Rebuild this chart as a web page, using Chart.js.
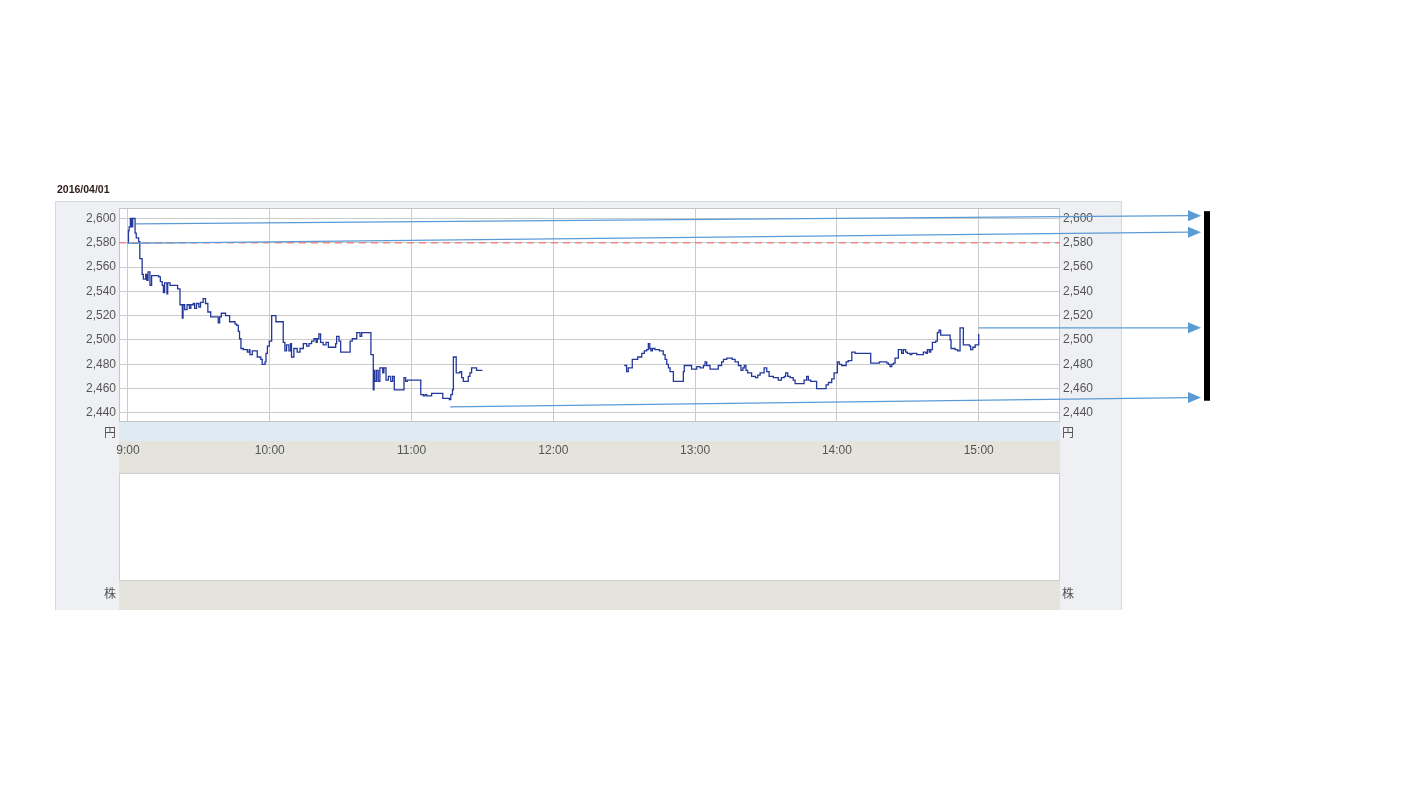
<!DOCTYPE html>
<html>
<head>
<meta charset="utf-8">
<script src="https://cdn.jsdelivr.net/npm/chart.js@4.4.1/dist/chart.umd.min.js"></script>
<style>
  html, body { margin: 0; padding: 0; background: #fff; }
  canvas { display: block; }
</style>
</head>
<body>
<canvas id="chart" width="1410" height="793"></canvas>
<script>
// --- data ---
const dateLabel = '2016/04/01';
const hourLabels = ['9:00', '10:00', '11:00', '12:00', '13:00', '14:00', '15:00'];
const priceTicks = [2440, 2460, 2480, 2500, 2520, 2540, 2560, 2580, 2600];
const prevClose = 2580;

// morning session ticks (time, price)
const amTimes = [
  '9:00:00', '9:00:12', '9:00:30', '9:01:00', '9:01:30', '9:02:00', '9:03:00', '9:03:30', '9:04:30', '9:05:00',
  '9:06:00', '9:06:30', '9:07:30', '9:08:00', '9:08:30', '9:09:18', '9:10:00', '9:13:00', '9:13:42', '9:14:30',
  '9:15:00', '9:15:30', '9:16:30', '9:16:48', '9:17:48', '9:21:00', '9:22:00', '9:23:00', '9:23:18', '9:24:00',
  '9:25:00', '9:26:00', '9:26:36', '9:27:36', '9:28:12', '9:29:00', '9:30:00', '9:30:42', '9:31:48', '9:32:48',
  '9:33:48', '9:35:00', '9:38:12', '9:38:48', '9:39:30', '9:41:18', '9:43:00', '9:45:18', '9:46:00', '9:46:42',
  '9:47:12', '9:47:48', '9:48:48', '9:50:30', '9:51:18', '9:51:36', '9:52:36', '9:54:42', '9:56:12', '9:56:48',
  '9:58:00', '9:58:24', '9:59:00', '9:59:48', '10:00:48', '10:02:36', '10:05:42', '10:06:24', '10:07:06', '10:08:06',
  '10:08:48', '10:09:12', '10:10:12', '10:11:36', '10:12:48', '10:14:12', '10:15:36', '10:16:36', '10:17:42', '10:18:42',
  '10:19:36', '10:20:06', '10:20:48', '10:21:30', '10:22:36', '10:23:48', '10:24:48', '10:27:54', '10:28:18', '10:29:18',
  '10:30:00', '10:34:00', '10:34:54', '10:36:48', '10:38:12', '10:38:54', '10:42:48', '10:43:48', '10:44:06', '10:44:30',
  '10:45:12', '10:45:54', '10:46:36', '10:47:48', '10:48:18', '10:49:12', '10:50:12', '10:51:12', '10:52:00', '10:52:42',
  '10:56:48', '10:57:30', '10:58:12', '11:03:54', '11:05:00', '11:05:42', '11:06:24', '11:08:30', '11:13:12', '11:16:00',
  '11:16:36', '11:17:18', '11:17:42', '11:18:54', '11:20:30', '11:21:12', '11:21:54', '11:24:00', '11:24:42', '11:25:24',
  '11:27:30', '11:30:00'
];
const amPrices = [
  2580, 2590, 2593, 2600, 2593, 2600, 2588, 2584, 2581, 2567,
  2554, 2550, 2554, 2549, 2556, 2545, 2553, 2552, 2548, 2545,
  2539, 2547, 2538, 2547, 2545, 2542, 2529, 2518, 2529, 2525,
  2529, 2526, 2529, 2530, 2526, 2530, 2527, 2531, 2534, 2530,
  2523, 2519, 2514, 2519, 2522, 2520, 2515, 2513, 2512, 2507,
  2501, 2493, 2492, 2490, 2492, 2488, 2491, 2486, 2484, 2480,
  2482, 2489, 2495, 2499, 2520, 2515, 2498, 2491, 2496, 2491,
  2497, 2486, 2493, 2490, 2493, 2497, 2495, 2497, 2499, 2501,
  2498, 2501, 2505, 2498, 2496, 2498, 2494, 2497, 2503, 2499,
  2490, 2499, 2501, 2506, 2503, 2506, 2488, 2459, 2475, 2466,
  2475, 2466, 2477, 2473, 2477, 2467, 2470, 2466, 2470, 2459,
  2469, 2466, 2467, 2455, 2454, 2455, 2454, 2456, 2452, 2451,
  2455, 2459, 2486, 2473, 2474, 2469, 2466, 2470, 2473, 2477,
  2475, 2475
];

// afternoon session ticks (time, price)
const pmTimes = [
  '12:30:00', '12:31:00', '12:31:42', '12:33:24', '12:35:42', '12:37:24', '12:38:30', '12:39:30', '12:40:12', '12:40:48',
  '12:41:18', '12:41:54', '12:43:00', '12:44:54', '12:46:30', '12:47:18', '12:48:00', '12:48:42', '12:49:24', '12:50:48',
  '12:55:00', '12:55:24', '12:58:30', '13:00:42', '13:02:06', '13:03:30', '13:04:12', '13:04:54', '13:06:18', '13:09:48',
  '13:11:12', '13:12:00', '13:13:24', '13:15:42', '13:16:54', '13:18:18', '13:19:24', '13:20:12', '13:20:48', '13:21:30',
  '13:22:12', '13:23:54', '13:25:30', '13:26:30', '13:27:30', '13:29:12', '13:30:18', '13:31:18', '13:33:06', '13:35:12',
  '13:36:30', '13:37:42', '13:38:18', '13:39:12', '13:40:12', '13:41:30', '13:42:18', '13:46:06', '13:47:12', '13:47:54',
  '13:48:54', '13:51:24', '13:55:24', '13:56:24', '13:57:48', '13:58:48', '14:00:12', '14:01:00', '14:02:00', '14:03:54',
  '14:04:48', '14:06:18', '14:07:42', '14:14:18', '14:18:00', '14:21:06', '14:21:48', '14:22:30', '14:23:12', '14:23:54',
  '14:24:36', '14:26:00', '14:27:24', '14:28:06', '14:29:06', '14:29:48', '14:31:00', '14:31:42', '14:33:48', '14:36:36',
  '14:37:42', '14:38:18', '14:39:06', '14:39:42', '14:40:24', '14:41:48', '14:42:30', '14:43:12', '14:43:54', '14:47:54',
  '14:48:18', '14:50:00', '14:51:06', '14:52:06', '14:53:30', '14:56:06', '14:56:36', '14:57:30', '14:58:30', '15:00:00'
];
const pmPrices = [
  2479, 2474, 2477, 2484, 2486, 2489, 2491, 2492, 2497, 2493,
  2491, 2493, 2492, 2491, 2488, 2484, 2480, 2477, 2474, 2466,
  2474, 2479, 2476, 2478, 2477, 2479, 2482, 2479, 2476, 2479,
  2482, 2484, 2485, 2484, 2482, 2479, 2475, 2477, 2479, 2475,
  2473, 2470, 2469, 2471, 2473, 2477, 2474, 2470, 2469, 2467,
  2469, 2470, 2473, 2470, 2469, 2467, 2464, 2467, 2470, 2467,
  2466, 2460, 2463, 2465, 2468, 2473, 2482, 2480, 2479, 2482,
  2483, 2490, 2489, 2481, 2482, 2481, 2480, 2478, 2480, 2481,
  2485, 2492, 2489, 2492, 2490, 2489, 2488, 2489, 2488, 2490,
  2489, 2492, 2490, 2492, 2498, 2499, 2506, 2508, 2504, 2500,
  2493, 2492, 2491, 2510, 2496, 2495, 2492, 2494, 2496, 2505
];

// annotation arrows: start (time, price) -> price at the arrow tip
const arrowStartTimes = ['9:03:24', '8:59:36', '15:00:00', '11:16:18'];
const arrowStartPrices = [2595.5, 2579.5, 2510, 2445];
const arrowEndPrices = [2602.3, 2588.7, 2510, 2452.6];
const barRange = [2450, 2606];

// --- helpers ---
const toMin = s => { const p = s.split(':').map(Number); return p[0] * 60 + p[1] + (p[2] || 0) / 60 - 540; };
const pts = (times, vals) => times.map((t, i) => ({ x: toMin(t), y: vals[i] }));
const fmt = v => v.toLocaleString('en-US');

const X_MIN = -3.8, X_MAX = 394.4;
const Y_MIN = 2432.5, Y_MAX = 2608.6;
const TICK_FONT = { family: 'Liberation Sans, Arial, sans-serif', size: 12 };
const GRID = '#cbcbcb';

const frame = {
  id: 'frame',
  beforeDraw(chart) {
    const { ctx, chartArea: ca } = chart;
    ctx.save();
    // outer panel
    const pl = ca.left - 64, pt = ca.top - 7, pr = ca.right + 62, pb = ca.bottom + 188;
    ctx.fillStyle = '#eff0f4';
    ctx.fillRect(pl, pt, pr - pl, pb - pt);
    ctx.strokeStyle = '#d6d8dd';
    ctx.lineWidth = 1;
    ctx.beginPath();
    ctx.moveTo(pl + 0.5, pb); ctx.lineTo(pl + 0.5, pt + 0.5);
    ctx.lineTo(pr - 0.5, pt + 0.5); ctx.lineTo(pr - 0.5, pb);
    ctx.stroke();
    // plot
    ctx.fillStyle = '#fff';
    ctx.fillRect(ca.left, ca.top, ca.right - ca.left, ca.bottom - ca.top);
    // bands below the plot
    const w = ca.right - ca.left, b = ca.bottom;
    ctx.fillStyle = '#deebf2';
    ctx.fillRect(ca.left, b, w, 19);
    ctx.fillStyle = '#e5e4dc';
    ctx.fillRect(ca.left, b + 19, w, 32);
    ctx.fillRect(ca.left, b + 158, w, 30);
    ctx.fillStyle = '#fff';
    ctx.fillRect(ca.left, b + 51, w, 107);
    ctx.strokeStyle = '#cfcfcf';
    ctx.strokeRect(ca.left + 0.5, b + 51.5, w - 1, 107);
    // unit labels
    ctx.fillStyle = '#555';
    ctx.font = '12px "Noto Sans CJK JP", sans-serif';
    ctx.textBaseline = 'middle';
    ctx.textAlign = 'right';
    ctx.fillText('円', ca.left - 3, b + 10);
    ctx.fillText('株', ca.left - 3, b + 171);
    ctx.textAlign = 'left';
    ctx.fillText('円', ca.right + 2, b + 10);
    ctx.fillText('株', ca.right + 2, b + 171);
    // date
    ctx.fillStyle = '#2e1c1c';
    ctx.font = 'bold 10.5px "Liberation Sans", Arial, sans-serif';
    ctx.fillText(dateLabel, pl + 2, pt - 11);
    ctx.restore();
  },
  beforeDatasetsDraw(chart) {
    const { ctx, chartArea: ca } = chart;
    ctx.save();
    ctx.strokeStyle = '#c4c4c4';
    ctx.lineWidth = 1;
    ctx.strokeRect(ca.left + 0.5, ca.top + 0.5, ca.right - ca.left - 1, ca.bottom - ca.top - 1);
    ctx.restore();
  },
  afterDraw(chart) {
    const { ctx, scales } = chart;
    const tipX = 1201;
    ctx.save();
    ctx.strokeStyle = '#5b9bd5';
    ctx.fillStyle = '#5b9bd5';
    ctx.lineWidth = 1.2;
    arrowStartTimes.forEach((t, i) => {
      const x0 = scales.x.getPixelForValue(toMin(t));
      const y0 = scales.y.getPixelForValue(arrowStartPrices[i]);
      const y1 = scales.y.getPixelForValue(arrowEndPrices[i]);
      ctx.beginPath();
      ctx.moveTo(x0, y0);
      ctx.lineTo(tipX - 12, y1);
      ctx.stroke();
      ctx.beginPath();
      ctx.moveTo(tipX, y1);
      ctx.lineTo(tipX - 13, y1 - 5.5);
      ctx.lineTo(tipX - 13, y1 + 5.5);
      ctx.closePath();
      ctx.fill();
    });
    const bt = scales.y.getPixelForValue(barRange[1]);
    const bb = scales.y.getPixelForValue(barRange[0]);
    ctx.fillStyle = '#000';
    ctx.fillRect(1204, bt, 6, bb - bt);
    ctx.restore();
  }
};

const lineStyle = {
  stepped: true,
  borderColor: '#24389c',
  borderWidth: 1.3,
  pointRadius: 0,
  fill: false
};

new Chart(document.getElementById('chart'), {
  type: 'line',
  data: {
    datasets: [
      { ...lineStyle, label: 'AM', data: pts(amTimes, amPrices) },
      { ...lineStyle, label: 'PM', data: pts(pmTimes, pmPrices) },
      {
        label: 'prev',
        data: [{ x: X_MIN, y: prevClose }, { x: X_MAX, y: prevClose }],
        borderColor: '#f08585',
        borderWidth: 1.5,
        borderDash: [7, 5],
        pointRadius: 0,
        fill: false
      }
    ]
  },
  options: {
    responsive: false,
    animation: false,
    events: [],
    layout: { padding: { left: 55, right: 288, top: 208, bottom: 183 } },
    plugins: { legend: { display: false }, tooltip: { enabled: false } },
    scales: {
      x: {
        type: 'linear',
        min: X_MIN,
        max: X_MAX,
        afterBuildTicks: s => { s.ticks = hourLabels.map(h => ({ value: toMin(h) })); },
        afterFit: s => { s.height = 188; },
        ticks: {
          callback: (v, i) => hourLabels[i],
          color: '#555',
          font: TICK_FONT,
          padding: 21,
          maxRotation: 0,
          autoSkip: false
        },
        grid: { color: GRID, drawTicks: false },
        border: { display: false }
      },
      y: {
        position: 'left',
        min: Y_MIN,
        max: Y_MAX,
        afterBuildTicks: s => { s.ticks = priceTicks.map(v => ({ value: v })); },
        afterFit: s => { s.width = 64; },
        ticks: { callback: v => fmt(v), color: '#555', font: TICK_FONT, padding: 3 },
        grid: { color: GRID, drawTicks: false },
        border: { display: false }
      },
      y2: {
        position: 'right',
        min: Y_MIN,
        max: Y_MAX,
        afterBuildTicks: s => { s.ticks = priceTicks.map(v => ({ value: v })); },
        afterFit: s => { s.width = 62; },
        ticks: { callback: v => fmt(v), color: '#555', font: TICK_FONT, padding: 3 },
        grid: { display: false, drawTicks: false },
        border: { display: false }
      }
    }
  },
  plugins: [frame]
});
</script>
</body>
</html>
